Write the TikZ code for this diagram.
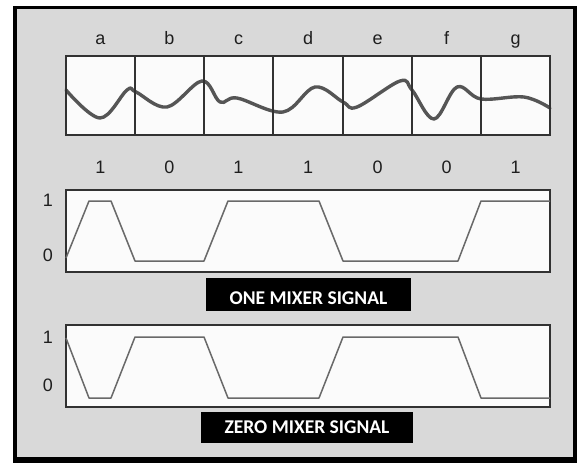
\documentclass[tikz,border=0pt]{standalone}
\usepackage{fontspec}
\setmainfont{Liberation Sans}
\newfontfamily\mixfont{Carlito}
\usepackage{tikz}
\definecolor{panelgray}{RGB}{217, 217, 217}
\definecolor{boxwhite}{RGB}{251, 251, 251}
\definecolor{wavegray}{RGB}{85, 85, 85}
\definecolor{linegray}{RGB}{105, 105, 105}
\definecolor{framedark}{RGB}{50, 50, 50}
\definecolor{textdark}{RGB}{30, 30, 30}

\begin{document}
\begin{tikzpicture}[
    x=1pt, y=-1pt,
    panel/.style={fill=boxwhite, draw=framedark, line width=1.6pt},
    divider/.style={draw=framedark, line width=1.6pt},
    wave/.style={draw=wavegray, line width=3.4pt, line cap=round, line join=round},
    sig/.style={draw=linegray, line width=1.5pt, line join=round},
    letter/.style={anchor=base, font=\fontsize{18}{18}\selectfont, text=textdark},
    bit/.style={font=\fontsize{18}{18}\selectfont, text=textdark},
    caption/.style={fill=black, text=white, inner sep=0pt,
                    font=\mixfont\bfseries\fontsize{19.5}{19.5}\selectfont}
]
\useasboundingbox (0,0) rectangle (577,463);

% Frame
\fill[black] (13,6) rectangle (577,463);
\fill[panelgray] (17,9) rectangle (573,457);

% Received wave
\fill[boxwhite] (66,56) rectangle (550,135);
\draw[wave] plot[smooth, tension=0.6] coordinates {
    (66,90) (100,118) (127,90) (136,92) (167,107) (202,81) (220,102)
    (237,98) (283,112) (315,87) (343,102) (357,107) (400,81) (412,90)
    (434,119) (457,87) (481,99) (524,97) (550,108)};
\foreach \x in {135,204,273,343,412,481}
    \draw[divider] (\x,56) -- (\x,135);
\draw[panel, fill=none] (66,56) rectangle (550,135);

% Letters
\node[letter] (la) at (100.5,44.5) {a};
\node[letter] (lb) at (169.5,44.5) {b};
\node[letter] (lc) at (238.5,44.5) {c};
\node[letter] (ld) at (308,44.5)   {d};
\node[letter] (le) at (377.5,44.5) {e};
\node[letter] (lf) at (446.5,44.5) {f};
\node[letter] (lg) at (515.5,44.5) {g};

% Bits
\node[bit] (ba) at (100.5,167) {1};
\node[bit] (bb) at (169.5,167) {0};
\node[bit] (bc) at (238.5,167) {1};
\node[bit] (bd) at (308,167)   {1};
\node[bit] (be) at (377.5,167) {0};
\node[bit] (bf) at (446.5,167) {0};
\node[bit] (bg) at (515.5,167) {1};

% One mixer signal
\draw[panel] (66,190) rectangle (550,272);
\draw[sig] (66,258) -- (89,201) -- (111,201) -- (135,261) -- (204,261)
    -- (228,201) -- (319,201) -- (343,261) -- (458,261) -- (481,201) -- (550,201);
\node[bit] (oneh) at (48,200) {1};
\node[bit] (onel) at (48,255) {0};
\node[caption, minimum width=205pt, minimum height=33pt,
      text height=20pt, text depth=0pt] (onecap) at (308.5,294.5) {ONE MIXER SIGNAL};

% Zero mixer signal
\draw[panel] (66,325) rectangle (550,407);
\draw[sig] (66,338) -- (89,398) -- (111,398) -- (135,337) -- (204,337)
    -- (228,398) -- (319,398) -- (343,337) -- (458,337) -- (481,398) -- (550,398);
\node[bit] (zeroh) at (48,337) {1};
\node[bit] (zerol) at (48,385) {0};
\node[caption, minimum width=212pt, minimum height=31pt] (zerocap) at (307,427.5) {ZERO MIXER SIGNAL};

\end{tikzpicture}
\end{document}
